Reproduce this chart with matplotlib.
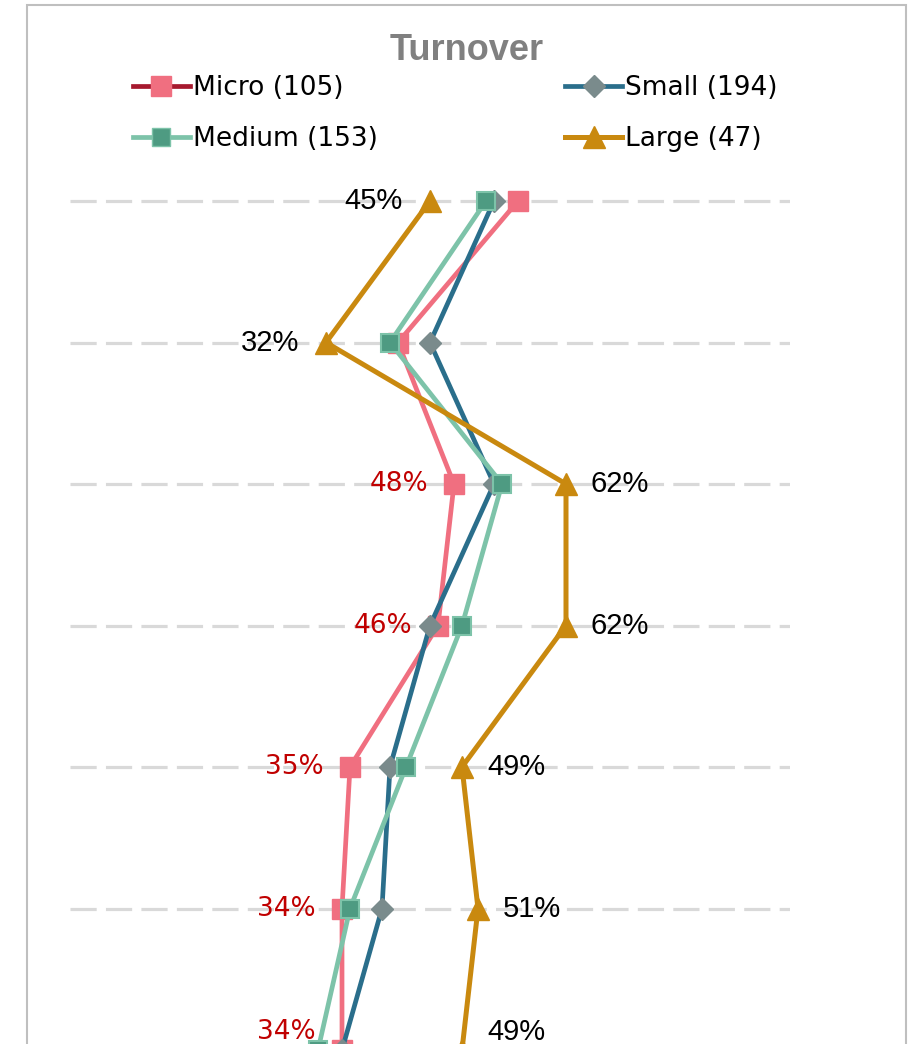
import matplotlib.pyplot as plt
from matplotlib.lines import Line2D
from matplotlib.patches import Rectangle

# values in %, one per row (top to bottom)
micro = [56, 41, 48, 46, 35, 34, 34]
small = [53, 45, 53, 45, 40, 39, 34]
medium = [52, 40, 54, 49, 42, 35, 31]
large = [45, 32, 62, 62, 49, 51, 49]
rows = list(range(len(micro)))

legend_labels = ['Micro (105)', 'Small (194)', 'Medium (153)', 'Large (47)']

fig = plt.figure(figsize=(9.09, 10.44), dpi=100)
W, H = 909, 1044

# outer chart frame
fig.patches.append(Rectangle((27 / W, -0.02), 879 / W, 1 - 5 / H + 0.02,
                             transform=fig.transFigure, fill=False,
                             edgecolor='#BFBFBF', lw=1.5))

ax = fig.add_axes([70 / W, 1 - 1120.75 / H, 720 / W, 990.5 / H])
ax.set_xlim(0, 90)
ax.set_ylim(6.5, -0.5)
for s in ax.spines.values():
    s.set_visible(False)
ax.set_xticks([])
ax.set_yticks([])

for r in rows:
    ax.plot([0, 90], [r, r], color='#D9D9D9', lw=2.3, dashes=(8.2, 2.9),
            solid_capstyle='butt', zorder=1)

ax.plot(micro, rows, color='#F06F80', lw=3.4, marker='s', ms=14,
        mfc='#F06F80', mec='#F06F80', zorder=3)
ax.plot(small, rows, color='#2A6E8B', lw=3.4, marker='D', ms=11,
        mfc='#7A8B8C', mec='#7A8B8C', zorder=4)
ax.plot(medium, rows, color='#7DC3A9', lw=3.4, marker='s', ms=13.5,
        mfc='#4E9B82', mec='#7DC3A9', mew=1.5, zorder=5)
ax.plot(large, rows, color='#C9890F', lw=3.6, marker='^', ms=16,
        mfc='#C9890F', mec='#C9890F', zorder=6)

# labels: micro in red on the left from row 3 on
for r in rows[2:]:
    dy = 18 if r == 6 else 0
    ax.annotate(f'{micro[r]}%', (micro[r], r), xytext=(-26, dy),
                textcoords='offset pixels', ha='right', va='center',
                color='#C00000', fontsize=19, family='DejaVu Sans',
                annotation_clip=False)

for r in rows:
    dy = 18 if r == 6 else 0
    if r < 2:
        dx, ha = -27, 'right'
    else:
        dx, ha = 25, 'left'
    ax.annotate(f'{large[r]}%', (large[r], r), xytext=(dx, dy),
                textcoords='offset pixels', ha=ha, va='center',
                color='black', fontsize=21, family='Liberation Sans',
                annotation_clip=False)

fig.text(467 / W, 1 - 51 / H, 'Turnover', ha='center', va='center',
         fontsize=26, fontweight='bold', color='#808080',
         family='Liberation Sans')

handles = [
    Line2D([], [], color='#A6192E', lw=3.4, marker='s', ms=14,
           mfc='#F06F80', mec='#F06F80'),
    Line2D([], [], color='#2A6E8B', lw=3.4, marker='D', ms=11,
           mfc='#7A8B8C', mec='#7A8B8C'),
    Line2D([], [], color='#7DC3A9', lw=3.4, marker='s', ms=13.5,
           mfc='#4E9B82', mec='#7DC3A9'),
    Line2D([], [], color='#C9890F', lw=3.6, marker='^', ms=16,
           mfc='#C9890F', mec='#C9890F'),
]
# order so that ncol=2 fills rows: Micro, Small / Medium, Large
order = [0, 2, 1, 3]
leg = fig.legend([handles[i] for i in order], [legend_labels[i] for i in order],
                 ncol=2, loc='upper left', bbox_to_anchor=(133 / W, 1 - 75 / H),
                 frameon=False, borderpad=0, borderaxespad=0,
                 handlelength=2.15, handletextpad=0.12, columnspacing=7.1,
                 labelspacing=0.95, prop={'family': 'DejaVu Sans', 'size': 19})

fig.savefig('out.png', dpi=100)
